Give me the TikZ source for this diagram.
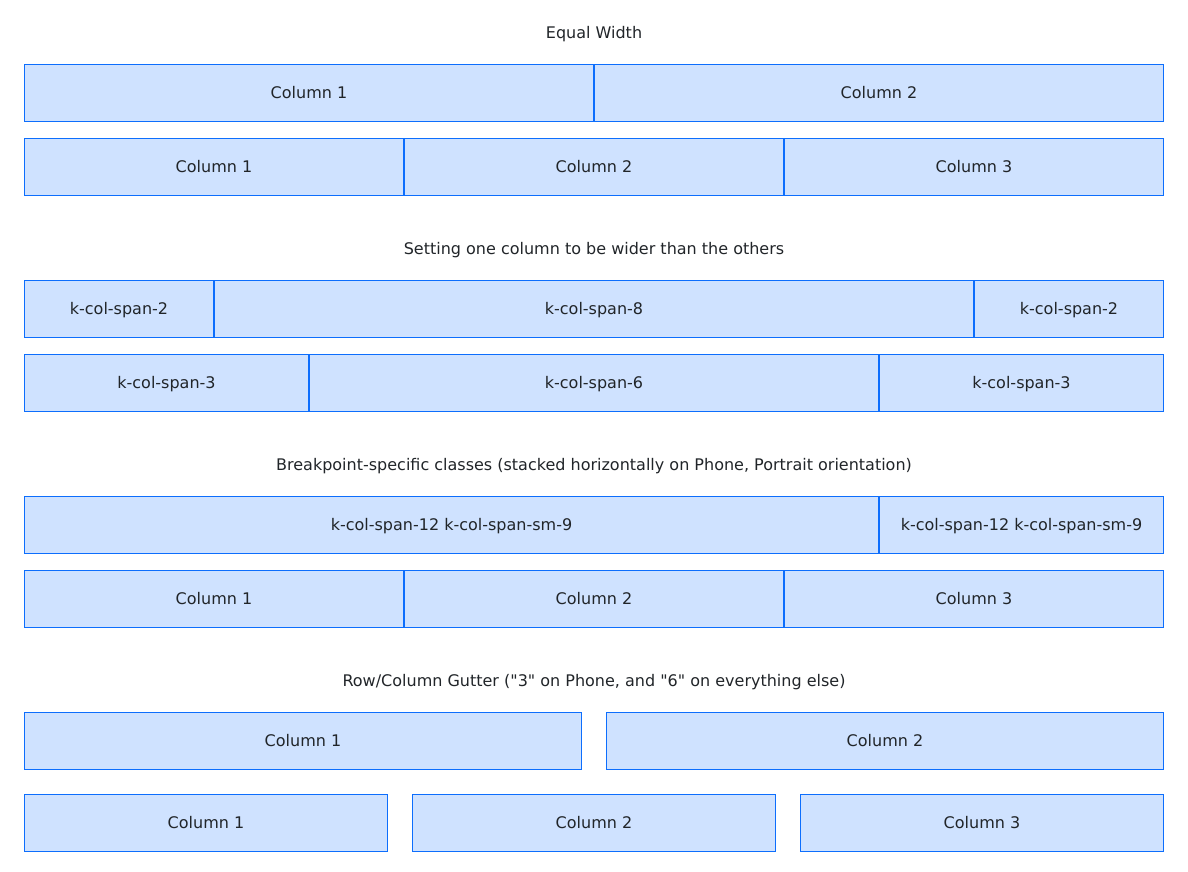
\documentclass[tikz,border=0pt]{standalone}
\usepackage{fontspec}
\setmainfont{DejaVu Sans}
\definecolor{cellfill}{HTML}{CFE2FF}
\definecolor{cellline}{HTML}{0D6EFD}
\definecolor{inktext}{HTML}{212529}
\tikzset{
  cell/.style={draw=cellline, fill=cellfill, line width=1pt, inner sep=0pt, outer sep=0pt,
    text=inktext, font=\fontsize{16}{19}\selectfont, text height=11.7pt, text depth=0pt},
  heading/.style={text=inktext, inner sep=0pt, font=\fontsize{16}{19}\selectfont,
    text height=11.7pt, text depth=0pt}
}
% \gridcell{name}{left}{right}{top}{bottom}{label}; edges sit on pixel centres
\newcommand{\gridcell}[6]{%
  \node[cell, minimum width={#3-#2}, minimum height={#5-#4}]
    (#1) at ({(#2+#3)/2+0.5},{(#4+#5)/2+0.5}) {#6};}
\begin{document}
\begin{tikzpicture}[x=1pt,y=-1pt]
\useasboundingbox (0,0) rectangle (1188,872);

% Equal width
\node[heading] (h1) at (594,32.5) {Equal Width};
\gridcell{a1}{24}{593}{64}{121}{Column 1}
\gridcell{a2}{594}{1163}{64}{121}{Column 2}
\gridcell{b1}{24}{403}{138}{195}{Column 1}
\gridcell{b2}{404}{783}{138}{195}{Column 2}
\gridcell{b3}{784}{1163}{138}{195}{Column 3}

% One wider column
\node[heading] (h2) at (594,248.5) {Setting one column to be wider than the others};
\gridcell{c1}{24}{213}{280}{337}{k-col-span-2}
\gridcell{c2}{214}{973}{280}{337}{k-col-span-8}
\gridcell{c3}{974}{1163}{280}{337}{k-col-span-2}
\gridcell{d1}{24}{308}{354}{411}{k-col-span-3}
\gridcell{d2}{309}{878}{354}{411}{k-col-span-6}
\gridcell{d3}{879}{1163}{354}{411}{k-col-span-3}

% Breakpoint classes
\node[heading] (h3) at (594,464.5) {Breakpoint-specific classes (stacked horizontally on Phone, Portrait orientation)};
\gridcell{e1}{24}{878}{496}{553}{k-col-span-12 k-col-span-sm-9}
\gridcell{e2}{879}{1163}{496}{553}{k-col-span-12 k-col-span-sm-9}
\gridcell{f1}{24}{403}{570}{627}{Column 1}
\gridcell{f2}{404}{783}{570}{627}{Column 2}
\gridcell{f3}{784}{1163}{570}{627}{Column 3}

% Gutters
\node[heading] (h4) at (594,680.5) {Row/Column Gutter (\textquotedbl 3\textquotedbl{} on Phone, and \textquotedbl 6\textquotedbl{} on everything else)};
\gridcell{g1}{24}{581}{712}{769}{Column 1}
\gridcell{g2}{606}{1163}{712}{769}{Column 2}
\gridcell{k1}{24}{387}{794}{851}{Column 1}
\gridcell{k2}{412}{775}{794}{851}{Column 2}
\gridcell{k3}{800}{1163}{794}{851}{Column 3}
\end{tikzpicture}
\end{document}
